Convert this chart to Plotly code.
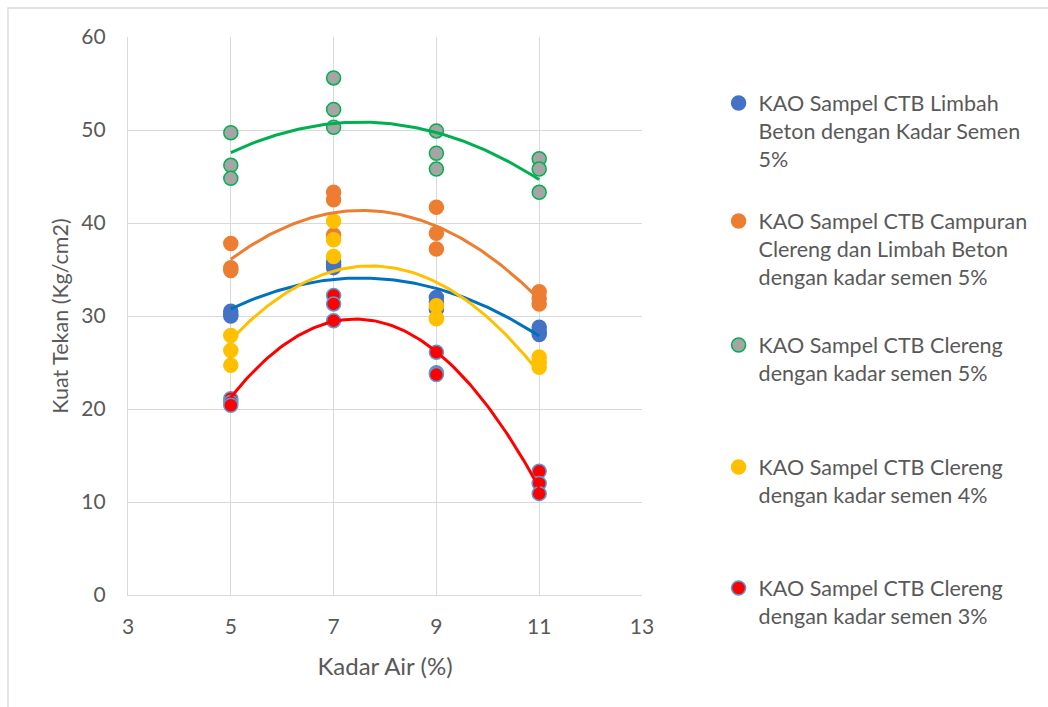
import numpy as np
import plotly.graph_objects as go

# Kadar air (%) for each sample, and kuat tekan (kg/cm2) per mix
x_limbah = [5, 5, 5, 7, 7, 7, 9, 9, 9, 11, 11, 11]
y_limbah = [30.5, 30.2, 30.0, 35.8, 35.5, 35.2, 32.0, 31.5, 30.7, 28.8, 28.3, 28.0]

x_campuran = [5, 5, 5, 7, 7, 7, 9, 9, 9, 11, 11, 11]
y_campuran = [37.8, 35.2, 34.9, 43.3, 42.5, 38.7, 41.7, 38.9, 37.2, 32.6, 31.9, 31.3]

x_clereng5 = [5, 5, 5, 7, 7, 7, 9, 9, 9, 11, 11, 11]
y_clereng5 = [49.7, 46.2, 44.8, 55.6, 52.2, 50.3, 49.9, 47.5, 45.8, 46.9, 45.8, 43.3]

x_clereng4 = [5, 5, 5, 7, 7, 7, 9, 9, 9, 11, 11, 11]
y_clereng4 = [27.9, 26.3, 24.7, 40.2, 38.2, 36.4, 31.1, 29.8, 29.7, 25.6, 25.0, 24.5]

x_clereng3 = [5, 5, 5, 7, 7, 7, 9, 9, 9, 11, 11, 11]
y_clereng3 = [21.1, 20.7, 20.4, 32.2, 31.3, 29.5, 26.1, 23.9, 23.7, 13.3, 12.0, 10.9]

series_names = [
    "KAO Sampel CTB Limbah<br>Beton dengan Kadar Semen<br>5%",
    "KAO Sampel CTB Campuran<br>Clereng dan Limbah Beton<br>dengan kadar semen 5%",
    "KAO Sampel CTB Clereng<br>dengan kadar semen 5%",
    "KAO Sampel CTB Clereng<br>dengan kadar semen 4%",
    "KAO Sampel CTB Clereng<br>dengan kadar semen 3%",
]

x_ticks = [3, 5, 7, 9, 11, 13]
y_ticks = [0, 10, 20, 30, 40, 50, 60]

FONT = "Lato"
TEXT = "#595959"
GRID = "#D9D9D9"

series = [
    (x_limbah, y_limbah, "#4472C4", "#4472C4", "#0070C0"),
    (x_campuran, y_campuran, "#ED7D31", "#ED7D31", "#ED7D31"),
    (x_clereng5, y_clereng5, "#A5A5A5", "#00B050", "#00B050"),
    (x_clereng4, y_clereng4, "#FFC000", "#FFC000", "#FFC000"),
    (x_clereng3, y_clereng3, "#FF0000", "#5B9BD5", "#FF0000"),
]

# top edge (paper units) of each legend block
legend_tops = [0.9185, 0.707, 0.4848, 0.2661, 0.0493]

fig = go.Figure()

for i, (xs, ys, fill, edge, trend) in enumerate(series):
    lg = "legend" if i == 0 else f"legend{i + 1}"
    fig.add_trace(go.Scatter(
        x=xs, y=ys, mode="markers", name=series_names[i],
        legend=lg,
        marker=dict(size=14, color=fill, line=dict(color=edge, width=1.5)),
    ))

# second-order polynomial trendlines over the measured range
for i, (xs, ys, fill, edge, trend) in enumerate(series):
    coef = np.polyfit(xs, ys, 2)
    xt = np.linspace(min(xs), max(xs), 120)
    fig.add_trace(go.Scatter(
        x=xt, y=np.polyval(coef, xt), mode="lines", showlegend=False,
        line=dict(color=trend, width=3), hoverinfo="skip",
    ))

legend_common = dict(
    x=1.149, xanchor="left", yanchor="top",
    font=dict(family=FONT, size=21.5, color=TEXT),
    bgcolor="rgba(0,0,0,0)", valign="top",
    itemwidth=30,
)
layout_legends = {}
for i, top in enumerate(legend_tops):
    key = "legend" if i == 0 else f"legend{i + 1}"
    layout_legends[key] = dict(legend_common, y=top)

fig.update_layout(
    width=1048, height=707,
    margin=dict(l=128, r=406, t=37, b=112),
    paper_bgcolor="white", plot_bgcolor="white",
    font=dict(family=FONT, color=TEXT, size=21),
    xaxis=dict(
        range=[3, 13], tickvals=x_ticks, ticktext=[str(v) for v in x_ticks],
        showgrid=True, gridcolor=GRID, gridwidth=1.3, zeroline=False,
        showline=True, linecolor=GRID, linewidth=1.3, ticks="",
        ticklabelstandoff=13,
        tickfont=dict(family=FONT, size=21, color=TEXT),
        title=dict(text="Kadar Air (%)", font=dict(family=FONT, size=24, color=TEXT), standoff=20),
    ),
    yaxis=dict(
        range=[0, 60], tickvals=y_ticks, ticktext=[str(v) for v in y_ticks],
        showgrid=True, gridcolor=GRID, gridwidth=1.3, zeroline=False,
        showline=True, linecolor=GRID, linewidth=1.3, ticks="",
        ticklabelstandoff=17,
        tickfont=dict(family=FONT, size=21, color=TEXT),
        title=dict(text="Kuat Tekan (Kg/cm2)", font=dict(family=FONT, size=21.5, color=TEXT), standoff=6),
    ),
    **layout_legends,
)

# chart-area frame
fig.add_shape(
    type="rect", xref="paper", yref="paper",
    x0=-0.2335, x1=2.0, y0=-0.3, y1=1.052,
    line=dict(color="#D9D9D9", width=1.3), fillcolor="rgba(0,0,0,0)", layer="below",
)

fig.write_html("out.html")
